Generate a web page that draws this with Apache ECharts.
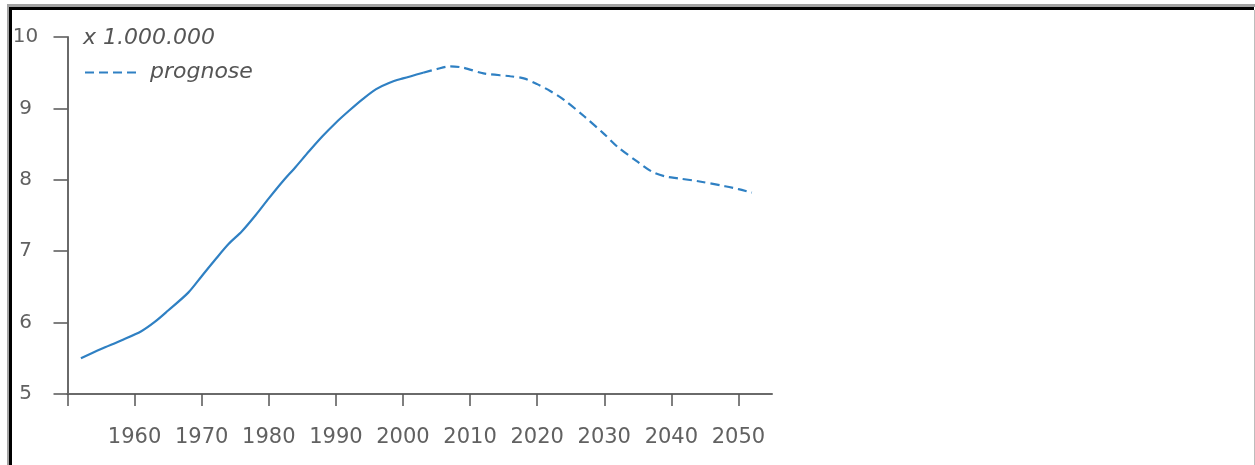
<!DOCTYPE html>
<html>
<head>
<meta charset="utf-8">
<script src="https://cdn.jsdelivr.net/npm/echarts@6/dist/echarts.min.js"></script>
<style>
  html, body { margin: 0; padding: 0; background: #fff; }
  #chart { position: absolute; left: 0; top: 0; width: 1255px; height: 465px; }
  .f { position: absolute; pointer-events: none; }
</style>
</head>
<body>
<div id="chart"></div>
<div class="f" style="left:7px; top:4px; width:1248px; height:3px; background:#a3a3a3;"></div>
<div class="f" style="left:7px; top:4px; width:2px; height:461px; background:#a3a3a3;"></div>
<div class="f" style="left:9px; top:7px; width:1245px; height:3px; background:#000;"></div>
<div class="f" style="left:9px; top:7px; width:3px; height:458px; background:#000;"></div>
<div class="f" style="left:1254px; top:10px; width:1px; height:455px; background:#bdbdbd;"></div>
<script>
// Observed years (solid) and forecast ("prognose", dashed)
const yearsObserved = [1952, 1955, 1958, 1961, 1963, 1965, 1968, 1970, 1972, 1974, 1976, 1978, 1980, 1982, 1984, 1986, 1988, 1990, 1992, 1994, 1996, 1998, 2000, 2003];
const valuesObserved = [5.50, 5.63, 5.75, 5.88, 6.01, 6.17, 6.42, 6.65, 6.88, 7.10, 7.28, 7.50, 7.74, 7.97, 8.18, 8.40, 8.61, 8.80, 8.97, 9.13, 9.27, 9.36, 9.42, 9.50];
const yearsForecast = [2003, 2005, 2007, 2009, 2012, 2016, 2018, 2020, 2022, 2024, 2027, 2030, 2032, 2035, 2037, 2039, 2041, 2044, 2048, 2050, 2052];
const valuesForecast = [9.50, 9.55, 9.59, 9.57, 9.49, 9.45, 9.42, 9.34, 9.24, 9.12, 8.89, 8.64, 8.46, 8.25, 8.12, 8.05, 8.02, 7.98, 7.91, 7.87, 7.82];
const xTickValues = [1950, 1960, 1970, 1980, 1990, 2000, 2010, 2020, 2030, 2040, 2050];
const xLabelValues = [1960, 1970, 1980, 1990, 2000, 2010, 2020, 2030, 2040, 2050];
const unitLabel = 'x 1.000.000';
const legendLabel = 'prognose';

const lineColor = '#2f80c3';
const font = 'DejaVu Sans';

const chart = echarts.init(document.getElementById('chart'), null, { renderer: 'canvas' });
chart.setOption({
  animation: false,
  grid: { left: 67.5, right: 483, top: 37, bottom: 71, containLabel: false },
  xAxis: {
    type: 'value', min: 1950, max: 2055,
    splitLine: { show: false },
    axisLine: { show: true, lineStyle: { color: '#6a6a6a', width: 2 } },
    axisTick: { show: true, length: 12, customValues: xTickValues, lineStyle: { color: '#555', width: 1.5 } },
    axisLabel: { customValues: xLabelValues, formatter: v => String(v), margin: 44, verticalAlign: 'middle', color: '#616161', fontFamily: font, fontSize: 21 }
  },
  yAxis: {
    type: 'value', min: 5, max: 10, interval: 1,
    splitLine: { show: false },
    axisLine: { show: true, lineStyle: { color: '#6a6a6a', width: 2 } },
    axisTick: { show: true, length: 14, lineStyle: { color: '#555', width: 1.5 } },
    axisLabel: { margin: 42, align: 'center', color: '#616161', fontFamily: font, fontSize: 20 }
  },
  graphic: [
    { type: 'text', left: 83, top: 27, style: { text: unitLabel, font: 'italic 22px "DejaVu Sans"', fill: '#555' } },
    { type: 'line', shape: { x1: 85, y1: 72.5, x2: 137, y2: 72.5 }, style: { stroke: lineColor, lineWidth: 2, lineDash: [9, 5] } },
    { type: 'text', left: 150, top: 61, style: { text: legendLabel, font: 'italic 22px "DejaVu Sans"', fill: '#555' } }
  ],
  series: [
    {
      type: 'line', name: 'observed', showSymbol: false, symbol: 'none', smooth: 0.3,
      data: yearsObserved.map((y, i) => [y, valuesObserved[i]]),
      lineStyle: { color: lineColor, width: 2.2 }
    },
    {
      type: 'line', name: legendLabel, showSymbol: false, symbol: 'none', smooth: 0.3,
      data: yearsForecast.map((y, i) => [y, valuesForecast[i]]),
      lineStyle: { color: lineColor, width: 2.2, type: [9, 5] }
    }
  ]
});
</script>
</body>
</html>
